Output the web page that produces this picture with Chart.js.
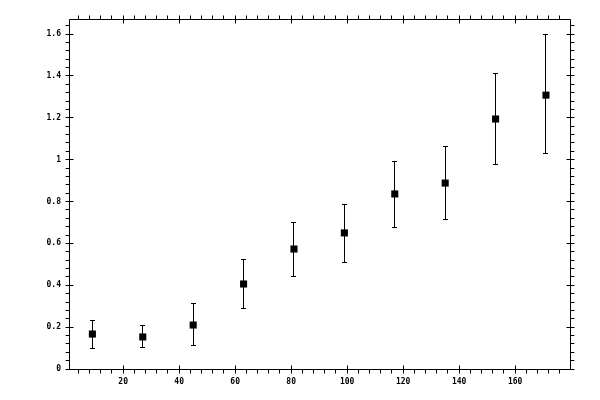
<!DOCTYPE html>
<html>
<head>
<meta charset="utf-8">
<script src="https://cdn.jsdelivr.net/npm/chart.js@4.4.0/dist/chart.umd.min.js"></script>
<style>
  html, body { margin: 0; padding: 0; background: #fff; }
</style>
</head>
<body>
<canvas id="chart" width="600" height="400"></canvas>
<script>
// data
const xs = [9, 27, 45, 63, 81, 99, 117, 135, 153, 171];
const ys = [0.167, 0.153, 0.210, 0.406, 0.573, 0.650, 0.836, 0.888, 1.194, 1.308];
const yLow = [0.096, 0.102, 0.111, 0.291, 0.444, 0.511, 0.678, 0.716, 0.979, 1.027];
const yHigh = [0.234, 0.208, 0.315, 0.525, 0.702, 0.788, 0.989, 1.065, 1.409, 1.596];

const xTicks = [20, 40, 60, 80, 100, 120, 140, 160];
const yTicks = [0, 0.2, 0.4, 0.6, 0.8, 1, 1.2, 1.4, 1.6];
const yTickLabels = ['0', '0.2', '0.4', '0.6', '0.8', '1', '1.2', '1.4', '1.6'];

const xMinorStep = 4;
const yMinorStep = 0.04;

const snap = p => Math.floor(p + 0.01) + 0.5;

// error bars, frame and minor ticks drawn through the chart scales
const framePlugin = {
  id: 'frame',
  beforeDatasetsDraw(chart) {
    const { ctx, scales: { x, y } } = chart;
    ctx.save();
    ctx.strokeStyle = '#000';
    ctx.lineWidth = 1;
    xs.forEach((v, i) => {
      const px = snap(x.getPixelForValue(v));
      const lo = snap(y.getPixelForValue(yLow[i]));
      const hi = snap(y.getPixelForValue(yHigh[i]));
      ctx.beginPath();
      ctx.moveTo(px, lo);
      ctx.lineTo(px, hi);
      ctx.moveTo(px - 2.5, lo);
      ctx.lineTo(px + 2.5, lo);
      ctx.moveTo(px - 2.5, hi);
      ctx.lineTo(px + 2.5, hi);
      ctx.stroke();
    });
    ctx.restore();
  },
  afterDraw(chart) {
    const { ctx, chartArea: a, scales: { x, y } } = chart;
    const L = a.left + 0.5, R = a.right + 0.5, T = a.top + 0.5, B = a.bottom + 0.5;
    ctx.save();
    ctx.strokeStyle = '#000';
    ctx.lineWidth = 1;
    ctx.beginPath();
    ctx.rect(L, T, R - L, B - T);

    // x ticks, bottom and top
    for (let i = 1; i * xMinorStep < x.max; i++) {
      const v = i * xMinorStep;
      if (v < x.min) continue;
      const px = snap(x.getPixelForValue(v));
      if (i % 5 === 0) {
        ctx.moveTo(px, B - 4); ctx.lineTo(px, B + 4);
        ctx.moveTo(px, T - 4); ctx.lineTo(px, T + 4);
      } else {
        ctx.moveTo(px, B); ctx.lineTo(px, B + 4);
        ctx.moveTo(px, T); ctx.lineTo(px, T - 4);
      }
    }
    // y ticks, left and right
    for (let i = 0; i * yMinorStep < y.max; i++) {
      const py = snap(y.getPixelForValue(i * yMinorStep));
      if (i % 5 === 0) {
        ctx.moveTo(L - 4, py); ctx.lineTo(L + 4, py);
        ctx.moveTo(R - 4, py); ctx.lineTo(R + 4, py);
      } else {
        ctx.moveTo(L, py); ctx.lineTo(L - 4, py);
        ctx.moveTo(R, py); ctx.lineTo(R + 4, py);
      }
    }
    ctx.stroke();
    ctx.restore();
  }
};

const tickFont = { family: 'DejaVu Sans Mono', size: 8, weight: 'bold' };

new Chart(document.getElementById('chart'), {
  type: 'scatter',
  data: {
    datasets: [{
      data: xs.map((v, i) => ({ x: v, y: ys[i] })),
      pointStyle: 'rect',
      pointRadius: 5,
      pointBorderWidth: 0,
      backgroundColor: '#000',
      borderColor: '#000'
    }]
  },
  options: {
    responsive: false,
    animation: false,
    devicePixelRatio: 1,
    layout: { padding: { left: 9, top: 19, right: 30, bottom: 0 } },
    plugins: { legend: { display: false }, tooltip: { enabled: false } },
    scales: {
      x: {
        type: 'linear',
        min: 0.65,
        max: 179.58,
        grid: { display: false, drawTicks: false },
        border: { display: false },
        afterBuildTicks: s => { s.ticks = xTicks.map(v => ({ value: v })); },
        afterFit: s => { s.height = 31; },
        ticks: {
          color: '#000',
          font: tickFont,
          padding: 8,
          autoSkip: false,
          maxRotation: 0,
          callback: v => String(v)
        }
      },
      y: {
        type: 'linear',
        min: 0,
        max: 1.6716,
        grid: { display: false, drawTicks: false },
        border: { display: false },
        afterBuildTicks: s => { s.ticks = yTicks.map(v => ({ value: v })); },
        afterFit: s => { s.width = 60; },
        ticks: {
          color: '#000',
          font: tickFont,
          padding: 8,
          autoSkip: false,
          callback: v => yTickLabels[yTicks.indexOf(v)]
        }
      }
    }
  },
  plugins: [framePlugin]
});
</script>
</body>
</html>
